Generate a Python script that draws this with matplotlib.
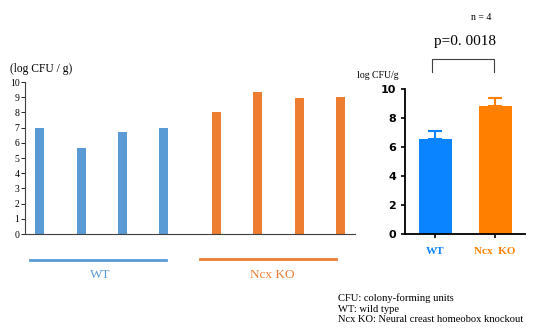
import numpy as np
import matplotlib
matplotlib.use("Agg")
import matplotlib.pyplot as plt
from matplotlib.lines import Line2D

# individual mice (left panel)
wt_values = [6.95, 5.65, 6.7, 6.95]
ko_values = [8.0, 9.35, 8.95, 9.0]

# mean + SD (right panel)
groups = ["WT", "Ncx  KO"]
means = [6.55, 8.85]
err_up = [0.55, 0.5]

blue_l, orange_l = "#5B9BD5", "#ED7D31"
blue_r, orange_r = "#0A84FF", "#FF8000"
serif = "Liberation Serif"

W, H = 545, 329
fig = plt.figure(figsize=(W / 100, H / 100), dpi=100)


def box(x0, x1, y_top, y_bot):
    # pixel box -> figure fraction
    return [x0 / W, (H - y_bot) / H, (x1 - x0) / W, (y_bot - y_top) / H]


# ---- left panel: individual values
ax = fig.add_axes(box(25, 355, 82, 234))
x_wt = np.arange(len(wt_values))
x_ko = np.arange(len(ko_values)) + len(wt_values) + 0.28
ax.bar(x_wt, wt_values, width=0.22, color=blue_l)
ax.bar(x_ko, ko_values, width=0.22, color=orange_l)
ax.set_xlim(-0.36, 7.63)
ax.set_ylim(0, 10)
ax.set_yticks(range(0, 11))
ax.set_xticks([])
for s in ["top", "right"]:
    ax.spines[s].set_visible(False)
for s in ["left", "bottom"]:
    ax.spines[s].set_color("#404040")
    ax.spines[s].set_linewidth(0.8)
ax.tick_params(axis="y", length=3, width=0.6, pad=1, labelsize=7)
for lab in ax.get_yticklabels():
    lab.set_fontfamily(serif)
fig.text(10 / W, 1 - 69 / H, "(log CFU / g)", fontsize=8.3, family=serif, va="center")

# group lines under the left panel
fig.add_artist(Line2D([30 / W, 166 / W], [1 - 260 / H] * 2, color=blue_l, lw=2))
fig.add_artist(Line2D([200 / W, 336 / W], [1 - 259 / H] * 2, color=orange_l, lw=2))
fig.text(100 / W, 1 - 275 / H, "WT", color=blue_l, fontsize=9.5, family=serif,
         ha="center", va="center")
fig.text(272 / W, 1 - 275 / H, "Ncx KO", color=orange_l, fontsize=9.5, family=serif,
         ha="center", va="center")

# ---- right panel: mean + SD
ax2 = fig.add_axes(box(405, 525, 89, 234))
xr = np.arange(len(groups))
cols = [blue_r, orange_r]
ax2.bar(xr, means, width=0.55, color=cols)
for xi, m, e, c in zip(xr, means, err_up, cols):
    ax2.errorbar(xi, m, yerr=[[0], [e]], fmt="none", ecolor=c,
                 elinewidth=1.5, capsize=5, capthick=1.5)
ax2.set_xlim(-0.5, 1.5)
ax2.set_ylim(0, 10)
ax2.set_yticks(range(0, 11, 2))
ax2.set_xticks(xr)
ax2.set_xticklabels(groups, family=serif, fontsize=10, fontweight="bold")
for lab, c in zip(ax2.get_xticklabels(), cols):
    lab.set_color(c)
for s in ["top", "right"]:
    ax2.spines[s].set_visible(False)
for s in ["left", "bottom"]:
    ax2.spines[s].set_linewidth(1.3)
ax2.tick_params(axis="both", length=3, width=1.2, labelsize=8)
ax2.tick_params(axis="x", pad=6)
for lab in ax2.get_yticklabels():
    lab.set_fontweight("bold")
fig.text(357 / W, 1 - 75 / H, "log CFU/g", fontsize=7, family=serif, va="center")

# significance bracket
fig.add_artist(Line2D([432 / W, 432 / W, 494 / W, 494 / W],
                      [1 - 72 / H, 1 - 59 / H, 1 - 59 / H, 1 - 72 / H],
                      color="#404040", lw=0.8))
fig.text(465 / W, 1 - 42 / H, "p=0. 0018", fontsize=11, family=serif,
         ha="center", va="center")
fig.text(471 / W, 1 - 18 / H, "n = 4", fontsize=7, family=serif, ha="left", va="center")

# footnote
notes = ["CFU: colony-forming units", "WT: wild type",
         "Ncx KO: Neural creast homeobox knockout"]
for i, t in enumerate(notes):
    fig.text(338 / W, 1 - (298 + 11 * i) / H, t, fontsize=7.6, family=serif, va="center")

fig.savefig("out.png", dpi=100)
